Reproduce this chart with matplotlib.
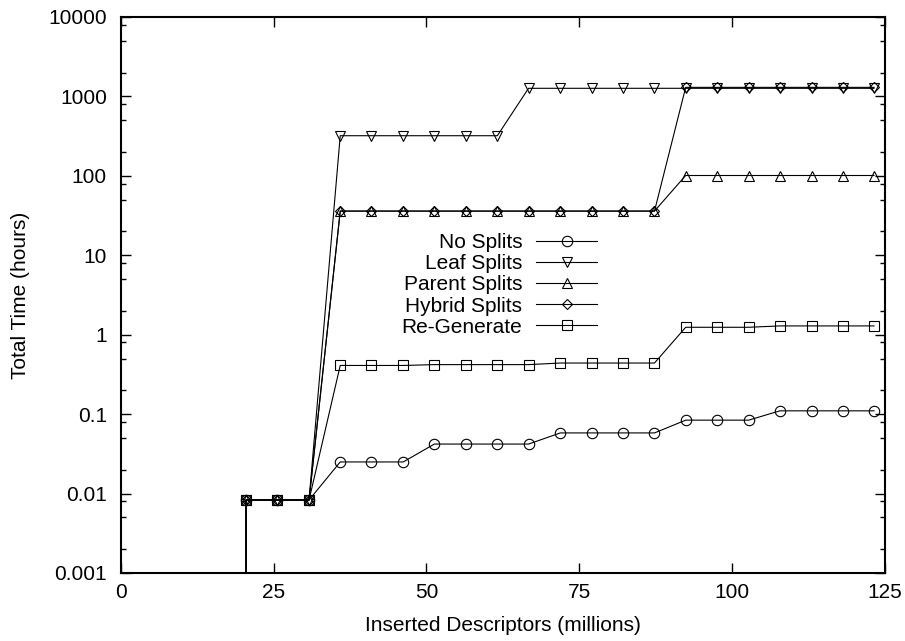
import matplotlib
matplotlib.use('Agg')

import matplotlib.pyplot as plt
from matplotlib.ticker import LogLocator, NullFormatter, FixedLocator
import numpy as np

FONT_SIZE = 15
plt.rcParams['font.family'] = ['Liberation Sans', 'DejaVu Sans']
plt.rcParams['font.size'] = FONT_SIZE

# inserted descriptors (millions); the first entry is the zero-time start point
descriptors = [20.5, 20.5, 25.6, 30.8, 35.9, 41.0, 46.2, 51.3, 56.4, 61.6, 66.7,
               71.9, 77.0, 82.1, 87.3, 92.4, 97.5, 102.7, 107.8, 113.0, 118.1, 123.2]

# total time in hours for each strategy
noSplits = [0.0, 0.0083, 0.0083, 0.0083, 0.025, 0.025, 0.025, 0.042, 0.042, 0.042, 0.042,
            0.058, 0.058, 0.058, 0.058, 0.084, 0.084, 0.084, 0.11, 0.11, 0.11, 0.11]
leafSplits = [0.0, 0.0083, 0.0083, 0.0083, 320, 320, 320, 320, 320, 320, 1265,
              1265, 1265, 1265, 1265, 1265, 1265, 1265, 1265, 1265, 1265, 1265]
parentSplits = [0.0, 0.0083, 0.0083, 0.0083, 36, 36, 36, 36, 36, 36, 36,
                36, 36, 36, 36, 101, 101, 101, 101, 101, 101, 101]
hybridSplits = [0.0, 0.0083, 0.0083, 0.0083, 36, 36, 36, 36, 36, 36, 36,
                36, 36, 36, 36, 1300, 1300, 1300, 1300, 1300, 1300, 1300]
reGenerate = [0.0, 0.0083, 0.0083, 0.0083, 0.41, 0.41, 0.41, 0.42, 0.42, 0.42, 0.42,
              0.44, 0.44, 0.44, 0.44, 1.24, 1.24, 1.24, 1.29, 1.29, 1.29, 1.29]

series = [
    ('No Splits', noSplits, 'o'),
    ('Leaf Splits', leafSplits, 'v'),
    ('Parent Splits', parentSplits, '^'),
    ('Hybrid Splits', hybridSplits, 'D'),
    ('Re-Generate', reGenerate, 's'),
]
markerSizes = {'o': 7.5, 'v': 7.5, '^': 7.5, 'D': 5.5, 's': 7.5}

fig = plt.figure(figsize=(9.05, 6.41), dpi=100)
ax = fig.add_axes([0.1334, 0.1061, 0.8445, 0.8674])

for label, values, marker in series:
    ax.plot(descriptors, values, color='black', linewidth=0.8, marker=marker,
            markersize=markerSizes[marker], fillstyle='none', markeredgewidth=0.8,
            markeredgecolor='black', label=label)

ax.set_yscale('log', nonpositive='clip')
ax.set_xlim(0, 125)
ax.set_ylim(0.001, 10000)

ax.xaxis.set_major_locator(FixedLocator([0, 25, 50, 75, 100, 125]))
ax.yaxis.set_major_locator(LogLocator(base=10, numticks=20))
ax.yaxis.set_minor_locator(LogLocator(base=10, subs=[2, 5, 8], numticks=20))
ax.yaxis.set_minor_formatter(NullFormatter())
ax.set_yticks([0.001, 0.01, 0.1, 1, 10, 100, 1000, 10000])
ax.set_yticklabels(['0.001', '0.01', '0.1', '1', '10', '100', '1000', '10000'])

ax.tick_params(which='both', direction='in', top=True, right=True, width=1.0)
ax.tick_params(which='major', length=7)
ax.tick_params(which='minor', length=3.6)
ax.tick_params(axis='y', pad=10)
ax.tick_params(axis='x', pad=7)
for spine in ax.spines.values():
    spine.set_linewidth(1.5)

ax.set_xlabel('Inserted Descriptors (millions)', labelpad=10)
ax.set_ylabel('Total Time (hours)', labelpad=13)

ax.legend(loc='center right', bbox_to_anchor=(0.6228, 0.518), frameon=False,
          markerfirst=False, handlelength=2.9, handletextpad=0.67,
          labelspacing=0.1, borderpad=0, borderaxespad=0)

fig.savefig('out.png', dpi=100)
